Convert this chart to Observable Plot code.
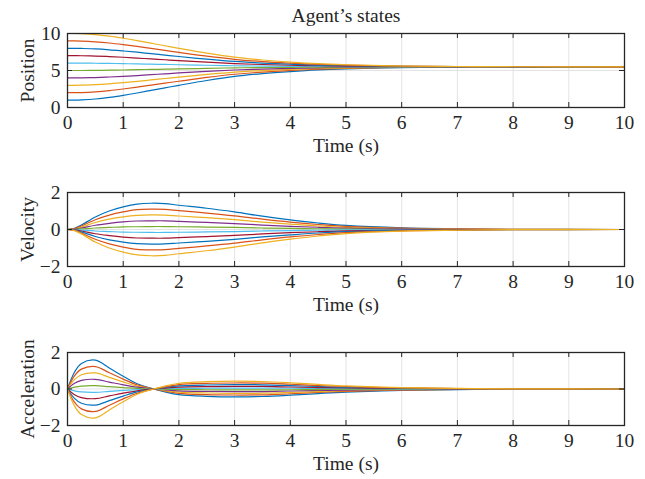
<!DOCTYPE html>
<html>
<head>
<meta charset="utf-8">
<script src="https://cdn.jsdelivr.net/npm/d3@7"></script>
<script src="https://cdn.jsdelivr.net/npm/@observablehq/plot@0.6"></script>
<style>
  html, body { margin: 0; padding: 0; background: #fff; }
  #chart { position: relative; width: 645px; height: 479px; overflow: hidden; }
  #chart > div { position: absolute; left: 0; }
</style>
</head>
<body>
<div id="chart"></div>
<script>
// ---- data ----
const time = [0, 0.125, 0.25, 0.5, 0.75, 1, 1.25, 1.5, 1.75, 2, 2.5, 3, 3.5, 4, 4.5, 5, 6, 7, 8, 10];

const agentColors = ["#0072BD", "#D95319", "#EDB120", "#7E2F8E", "#77AC30",
                     "#4DBEEE", "#A2142F", "#0072BD", "#D95319", "#EDB120"];

const positions = [
  [1.00, 1.00, 1.03, 1.15, 1.36, 1.64, 1.96, 2.31, 2.66, 3.00, 3.65, 4.20, 4.58, 4.86, 5.08, 5.22, 5.39, 5.46, 5.49, 5.50],
  [2.00, 2.00, 2.02, 2.12, 2.28, 2.50, 2.75, 3.02, 3.29, 3.55, 4.06, 4.49, 4.79, 5.00, 5.17, 5.28, 5.42, 5.47, 5.49, 5.50],
  [3.00, 3.00, 3.02, 3.08, 3.20, 3.36, 3.53, 3.73, 3.92, 4.11, 4.47, 4.78, 4.99, 5.15, 5.27, 5.35, 5.44, 5.48, 5.50, 5.50],
  [4.00, 4.00, 4.01, 4.05, 4.12, 4.21, 4.32, 4.44, 4.55, 4.67, 4.88, 5.07, 5.19, 5.29, 5.36, 5.41, 5.46, 5.49, 5.50, 5.50],
  [5.00, 5.00, 5.00, 5.02, 5.04, 5.07, 5.11, 5.15, 5.18, 5.22, 5.29, 5.36, 5.40, 5.43, 5.45, 5.47, 5.49, 5.50, 5.50, 5.50],
  [6.00, 6.00, 6.00, 5.98, 5.96, 5.93, 5.89, 5.85, 5.82, 5.78, 5.71, 5.64, 5.60, 5.57, 5.55, 5.53, 5.51, 5.50, 5.50, 5.50],
  [7.00, 7.00, 6.99, 6.95, 6.88, 6.79, 6.68, 6.56, 6.45, 6.33, 6.12, 5.93, 5.81, 5.71, 5.64, 5.59, 5.54, 5.51, 5.50, 5.50],
  [8.00, 8.00, 7.98, 7.92, 7.80, 7.64, 7.47, 7.27, 7.08, 6.89, 6.53, 6.22, 6.01, 5.85, 5.73, 5.65, 5.56, 5.52, 5.50, 5.50],
  [9.00, 9.00, 8.98, 8.88, 8.72, 8.50, 8.25, 7.98, 7.71, 7.45, 6.94, 6.51, 6.21, 6.00, 5.83, 5.72, 5.58, 5.53, 5.51, 5.50],
  [10.00, 10.00, 9.97, 9.85, 9.64, 9.36, 9.04, 8.69, 8.34, 8.00, 7.35, 6.80, 6.42, 6.14, 5.92, 5.78, 5.61, 5.54, 5.51, 5.50]
];

const velocities = [
  [0, 0.06, 0.24, 0.68, 1.00, 1.22, 1.37, 1.42, 1.40, 1.31, 1.15, 0.95, 0.72, 0.52, 0.35, 0.22, 0.09, 0.04, 0.01, 0],
  [0, 0.05, 0.19, 0.53, 0.78, 0.95, 1.07, 1.10, 1.09, 1.02, 0.89, 0.74, 0.56, 0.40, 0.27, 0.17, 0.07, 0.03, 0.01, 0],
  [0, 0.03, 0.13, 0.38, 0.56, 0.68, 0.76, 0.79, 0.78, 0.73, 0.64, 0.53, 0.40, 0.29, 0.19, 0.12, 0.05, 0.02, 0.01, 0],
  [0, 0.02, 0.08, 0.23, 0.33, 0.41, 0.46, 0.47, 0.47, 0.44, 0.38, 0.32, 0.24, 0.17, 0.12, 0.07, 0.03, 0.01, 0, 0],
  [0, 0.01, 0.03, 0.08, 0.11, 0.14, 0.15, 0.16, 0.16, 0.15, 0.13, 0.11, 0.08, 0.06, 0.04, 0.02, 0.01, 0, 0, 0],
  [0, -0.01, -0.03, -0.08, -0.11, -0.14, -0.15, -0.16, -0.16, -0.15, -0.13, -0.11, -0.08, -0.06, -0.04, -0.02, -0.01, 0, 0, 0],
  [0, -0.02, -0.08, -0.23, -0.33, -0.41, -0.46, -0.47, -0.47, -0.44, -0.38, -0.32, -0.24, -0.17, -0.12, -0.07, -0.03, -0.01, 0, 0],
  [0, -0.03, -0.13, -0.38, -0.56, -0.68, -0.76, -0.79, -0.78, -0.73, -0.64, -0.53, -0.40, -0.29, -0.19, -0.12, -0.05, -0.02, -0.01, 0],
  [0, -0.05, -0.19, -0.53, -0.78, -0.95, -1.07, -1.10, -1.09, -1.02, -0.89, -0.74, -0.56, -0.40, -0.27, -0.17, -0.07, -0.03, -0.01, 0],
  [0, -0.06, -0.24, -0.68, -1.00, -1.22, -1.37, -1.42, -1.40, -1.31, -1.15, -0.95, -0.72, -0.52, -0.35, -0.22, -0.09, -0.04, -0.01, 0]
];

const accelerations = [
  [0, 0.92, 1.40, 1.58, 1.15, 0.70, 0.29, 0.04, -0.16, -0.31, -0.40, -0.43, -0.41, -0.34, -0.25, -0.17, -0.08, -0.03, -0.01, 0],
  [0, 0.72, 1.09, 1.23, 0.89, 0.54, 0.23, 0.03, -0.12, -0.24, -0.31, -0.33, -0.32, -0.26, -0.19, -0.13, -0.06, -0.02, -0.01, 0],
  [0, 0.51, 0.78, 0.88, 0.64, 0.39, 0.16, 0.02, -0.09, -0.17, -0.22, -0.24, -0.23, -0.19, -0.14, -0.09, -0.04, -0.02, -0.01, 0],
  [0, 0.31, 0.47, 0.53, 0.38, 0.23, 0.10, 0.01, -0.05, -0.10, -0.13, -0.14, -0.14, -0.11, -0.08, -0.06, -0.03, -0.01, 0, 0],
  [0, 0.10, 0.16, 0.18, 0.13, 0.08, 0.03, 0, -0.02, -0.03, -0.04, -0.05, -0.05, -0.04, -0.03, -0.02, -0.01, 0, 0, 0],
  [0, -0.10, -0.16, -0.18, -0.13, -0.08, -0.03, 0, 0.02, 0.03, 0.04, 0.05, 0.05, 0.04, 0.03, 0.02, 0.01, 0, 0, 0],
  [0, -0.31, -0.47, -0.53, -0.38, -0.23, -0.10, -0.01, 0.05, 0.10, 0.13, 0.14, 0.14, 0.11, 0.08, 0.06, 0.03, 0.01, 0, 0],
  [0, -0.51, -0.78, -0.88, -0.64, -0.39, -0.16, -0.02, 0.09, 0.17, 0.22, 0.24, 0.23, 0.19, 0.14, 0.09, 0.04, 0.02, 0.01, 0],
  [0, -0.72, -1.09, -1.23, -0.89, -0.54, -0.23, -0.03, 0.12, 0.24, 0.31, 0.33, 0.32, 0.26, 0.19, 0.13, 0.06, 0.02, 0.01, 0],
  [0, -0.92, -1.40, -1.58, -1.15, -0.70, -0.29, -0.04, 0.16, 0.31, 0.40, 0.43, 0.41, 0.34, 0.25, 0.17, 0.08, 0.03, 0.01, 0]
];

const xTicks = [0, 1, 2, 3, 4, 5, 6, 7, 8, 9, 10];
const positionTicks = [0, 5, 10];
const rateTicks = [-2, 0, 2];

const titleText = "Agent\u2019s states";
const xLabel = "Time (s)";

// ---- drawing ----
const FONT = "Liberation Serif, Times New Roman, serif";
const FS = 19.5;
const W = 645, ML = 67, MR = 21;
const innerW = W - ML - MR;
const TICK = 5;
const frameColor = "#262626";
const gridColor = "#e3e3e3";

function toRows(series) {
  const rows = [];
  series.forEach((vals, i) => {
    vals.forEach((v, j) => rows.push({t: time[j], v, agent: i}));
  });
  return rows;
}

function makePlot({series, yDomain, yTicks, yLabel, top, mTop, innerH, title}) {
  const height = 160;
  const mBottom = height - mTop - innerH;
  const fmt = d => d < 0 ? "\u2212" + Math.abs(d) : String(d);
  const marks = [
    Plot.ruleX(xTicks, {x: d => d, stroke: gridColor, strokeWidth: 1}),
    Plot.ruleY(yTicks, {y: d => d, stroke: gridColor, strokeWidth: 1}),
    Plot.line(toRows(series), {
      x: "t", y: "v", z: "agent",
      stroke: d => agentColors[d.agent],
      strokeWidth: 1.2, curve: "catmull-rom"
    }),
    // inward tick marks (MATLAB box style)
    Plot.ruleX(xTicks, {x: d => d, stroke: frameColor, insetTop: innerH - TICK}),
    Plot.ruleX(xTicks, {x: d => d, stroke: frameColor, insetBottom: innerH - TICK}),
    Plot.ruleY(yTicks, {y: d => d, stroke: frameColor, insetRight: innerW - TICK}),
    Plot.ruleY(yTicks, {y: d => d, stroke: frameColor, insetLeft: innerW - TICK}),
    Plot.frame({stroke: frameColor, strokeWidth: 1.3}),
    Plot.axisX(xTicks, {tickSize: 0, tickPadding: 8, fill: frameColor, label: null, tickFormat: fmt}),
    Plot.axisY(yTicks, {tickSize: 0, tickPadding: 7, fill: frameColor, label: null, tickFormat: fmt}),
    Plot.text([xLabel], {frameAnchor: "bottom", dy: 38, lineAnchor: "middle", fill: frameColor}),
    Plot.text([yLabel], {frameAnchor: "left", dx: -40, rotate: -90, lineAnchor: "middle", textAnchor: "middle", fill: frameColor})
  ];
  if (title) {
    marks.push(Plot.text([title], {frameAnchor: "top", dy: -18, lineAnchor: "middle", fill: frameColor}));
  }
  const svg = Plot.plot({
    width: W,
    height,
    marginLeft: ML,
    marginRight: MR,
    marginTop: mTop,
    marginBottom: mBottom,
    style: {fontFamily: FONT, fontSize: FS + "px", background: "transparent", overflow: "visible"},
    x: {domain: [0, 10]},
    y: {domain: yDomain},
    marks
  });
  const wrap = document.createElement("div");
  wrap.style.top = top + "px";
  wrap.appendChild(svg);
  document.getElementById("chart").appendChild(wrap);
}

makePlot({series: positions, yDomain: [0, 10], yTicks: positionTicks, yLabel: "Position",
          top: 0, mTop: 33, innerH: 74, title: titleText});
makePlot({series: velocities, yDomain: [-2, 2], yTicks: rateTicks, yLabel: "Velocity",
          top: 160, mTop: 32, innerH: 74});
makePlot({series: accelerations, yDomain: [-2, 2], yTicks: rateTicks, yLabel: "Acceleration",
          top: 319, mTop: 33, innerH: 73});
</script>
</body>
</html>
